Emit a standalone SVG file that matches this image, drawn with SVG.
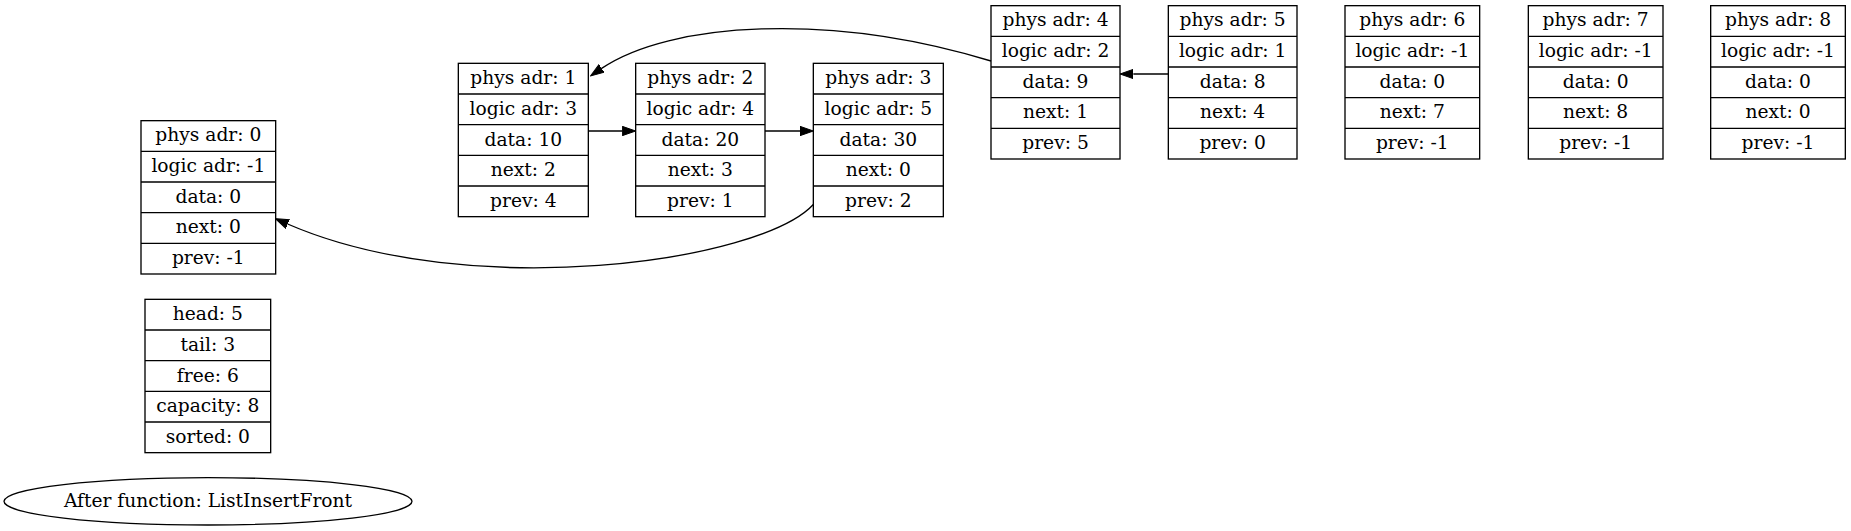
<svg xmlns="http://www.w3.org/2000/svg" width="1851" height="531" viewBox="0 0 1851 531">
<style>
.box{fill:#fff;stroke:#000;stroke-width:1.33}
.sep{stroke:#000;stroke-width:1.33}
text{font-family:"DejaVu Serif","Liberation Serif",serif;font-size:18.67px;fill:#000;text-anchor:middle}
.edge{fill:none;stroke:#000;stroke-width:1.33}
</style>
<defs>
<marker id="arr" markerUnits="userSpaceOnUse" markerWidth="14" markerHeight="10" viewBox="0 0 14 10" refX="0" refY="5" orient="auto">
<path d="M0,0.33 L13.33,5 L0,9.67 z" fill="#000" stroke="#000" stroke-width="1"/>
</marker>
</defs>
<rect width="1851" height="531" fill="#fff"/>

<g id="node0" transform="translate(141,120.67)">
<rect class="box" width="134.67" height="153.33"/>
<line class="sep" x1="0" y1="30.67" x2="134.67" y2="30.67"/><line class="sep" x1="0" y1="61.33" x2="134.67" y2="61.33"/><line class="sep" x1="0" y1="92" x2="134.67" y2="92"/><line class="sep" x1="0" y1="122.67" x2="134.67" y2="122.67"/>
<text x="67.33" y="20.8">phys adr: 0</text><text x="67.33" y="51.5">logic adr: -1</text><text x="67.33" y="82.2">data: 0</text><text x="67.33" y="112.8">next: 0</text><text x="67.33" y="143.5">prev: -1</text>
</g>

<g id="node1" transform="translate(458.33,63.33)">
<rect class="box" width="130" height="153.33"/>
<line class="sep" x1="0" y1="30.67" x2="130" y2="30.67"/><line class="sep" x1="0" y1="61.33" x2="130" y2="61.33"/><line class="sep" x1="0" y1="92" x2="130" y2="92"/><line class="sep" x1="0" y1="122.67" x2="130" y2="122.67"/>
<text x="65" y="20.8">phys adr: 1</text><text x="65" y="51.5">logic adr: 3</text><text x="65" y="82.2">data: 10</text><text x="65" y="112.8">next: 2</text><text x="65" y="143.5">prev: 4</text>
</g>

<g id="node2" transform="translate(635.67,63.33)">
<rect class="box" width="129.33" height="153.33"/>
<line class="sep" x1="0" y1="30.67" x2="129.33" y2="30.67"/><line class="sep" x1="0" y1="61.33" x2="129.33" y2="61.33"/><line class="sep" x1="0" y1="92" x2="129.33" y2="92"/><line class="sep" x1="0" y1="122.67" x2="129.33" y2="122.67"/>
<text x="64.67" y="20.8">phys adr: 2</text><text x="64.67" y="51.5">logic adr: 4</text><text x="64.67" y="82.2">data: 20</text><text x="64.67" y="112.8">next: 3</text><text x="64.67" y="143.5">prev: 1</text>
</g>

<g id="node3" transform="translate(813.33,63.33)">
<rect class="box" width="130" height="153.33"/>
<line class="sep" x1="0" y1="30.67" x2="130" y2="30.67"/><line class="sep" x1="0" y1="61.33" x2="130" y2="61.33"/><line class="sep" x1="0" y1="92" x2="130" y2="92"/><line class="sep" x1="0" y1="122.67" x2="130" y2="122.67"/>
<text x="65" y="20.8">phys adr: 3</text><text x="65" y="51.5">logic adr: 5</text><text x="65" y="82.2">data: 30</text><text x="65" y="112.8">next: 0</text><text x="65" y="143.5">prev: 2</text>
</g>

<g id="node4" transform="translate(991,5.67)">
<rect class="box" width="129" height="153.33"/>
<line class="sep" x1="0" y1="30.67" x2="129" y2="30.67"/><line class="sep" x1="0" y1="61.33" x2="129" y2="61.33"/><line class="sep" x1="0" y1="92" x2="129" y2="92"/><line class="sep" x1="0" y1="122.67" x2="129" y2="122.67"/>
<text x="64.5" y="20.8">phys adr: 4</text><text x="64.5" y="51.5">logic adr: 2</text><text x="64.5" y="82.2">data: 9</text><text x="64.5" y="112.8">next: 1</text><text x="64.5" y="143.5">prev: 5</text>
</g>

<g id="node5" transform="translate(1168.33,5.67)">
<rect class="box" width="128.67" height="153.33"/>
<line class="sep" x1="0" y1="30.67" x2="128.67" y2="30.67"/><line class="sep" x1="0" y1="61.33" x2="128.67" y2="61.33"/><line class="sep" x1="0" y1="92" x2="128.67" y2="92"/><line class="sep" x1="0" y1="122.67" x2="128.67" y2="122.67"/>
<text x="64.33" y="20.8">phys adr: 5</text><text x="64.33" y="51.5">logic adr: 1</text><text x="64.33" y="82.2">data: 8</text><text x="64.33" y="112.8">next: 4</text><text x="64.33" y="143.5">prev: 0</text>
</g>

<g id="node6" transform="translate(1345,5.67)">
<rect class="box" width="134.67" height="153.33"/>
<line class="sep" x1="0" y1="30.67" x2="134.67" y2="30.67"/><line class="sep" x1="0" y1="61.33" x2="134.67" y2="61.33"/><line class="sep" x1="0" y1="92" x2="134.67" y2="92"/><line class="sep" x1="0" y1="122.67" x2="134.67" y2="122.67"/>
<text x="67.33" y="20.8">phys adr: 6</text><text x="67.33" y="51.5">logic adr: -1</text><text x="67.33" y="82.2">data: 0</text><text x="67.33" y="112.8">next: 7</text><text x="67.33" y="143.5">prev: -1</text>
</g>

<g id="node7" transform="translate(1528.33,5.67)">
<rect class="box" width="134.67" height="153.33"/>
<line class="sep" x1="0" y1="30.67" x2="134.67" y2="30.67"/><line class="sep" x1="0" y1="61.33" x2="134.67" y2="61.33"/><line class="sep" x1="0" y1="92" x2="134.67" y2="92"/><line class="sep" x1="0" y1="122.67" x2="134.67" y2="122.67"/>
<text x="67.33" y="20.8">phys adr: 7</text><text x="67.33" y="51.5">logic adr: -1</text><text x="67.33" y="82.2">data: 0</text><text x="67.33" y="112.8">next: 8</text><text x="67.33" y="143.5">prev: -1</text>
</g>

<g id="node8" transform="translate(1710.67,5.67)">
<rect class="box" width="134.67" height="153.33"/>
<line class="sep" x1="0" y1="30.67" x2="134.67" y2="30.67"/><line class="sep" x1="0" y1="61.33" x2="134.67" y2="61.33"/><line class="sep" x1="0" y1="92" x2="134.67" y2="92"/><line class="sep" x1="0" y1="122.67" x2="134.67" y2="122.67"/>
<text x="67.33" y="20.8">phys adr: 8</text><text x="67.33" y="51.5">logic adr: -1</text><text x="67.33" y="82.2">data: 0</text><text x="67.33" y="112.8">next: 0</text><text x="67.33" y="143.5">prev: -1</text>
</g>

<g id="info" transform="translate(145,299.33)">
<rect class="box" width="125.67" height="153.33"/>
<line class="sep" x1="0" y1="30.67" x2="125.67" y2="30.67"/><line class="sep" x1="0" y1="61.33" x2="125.67" y2="61.33"/><line class="sep" x1="0" y1="92" x2="125.67" y2="92"/><line class="sep" x1="0" y1="122.67" x2="125.67" y2="122.67"/>
<text x="62.83" y="20.8">head: 5</text><text x="62.83" y="51.5">tail: 3</text><text x="62.83" y="82.2">free: 6</text><text x="62.83" y="112.8">capacity: 8</text><text x="62.83" y="143.5">sorted: 0</text>
</g>

<g id="title">
<ellipse cx="208" cy="501.3" rx="204" ry="23.7" fill="#fff" stroke="#000" stroke-width="1.33"/>
<text x="208" y="506.5">After function: ListInsertFront</text>
</g>

<g id="edges">
<path class="edge" d="M588.33,131 L622.3,131" marker-end="url(#arr)"/>
<path class="edge" d="M765,131 L800,131" marker-end="url(#arr)"/>
<path class="edge" d="M1168.33,74 L1133.33,74" marker-end="url(#arr)"/>
<path class="edge" d="M991,61 C830,12 670,22 601.6,68.4" marker-end="url(#arr)"/>
<path class="edge" d="M813.33,204.5 C760,262 470,303 287.6,224" marker-end="url(#arr)"/>
</g>
</svg>
